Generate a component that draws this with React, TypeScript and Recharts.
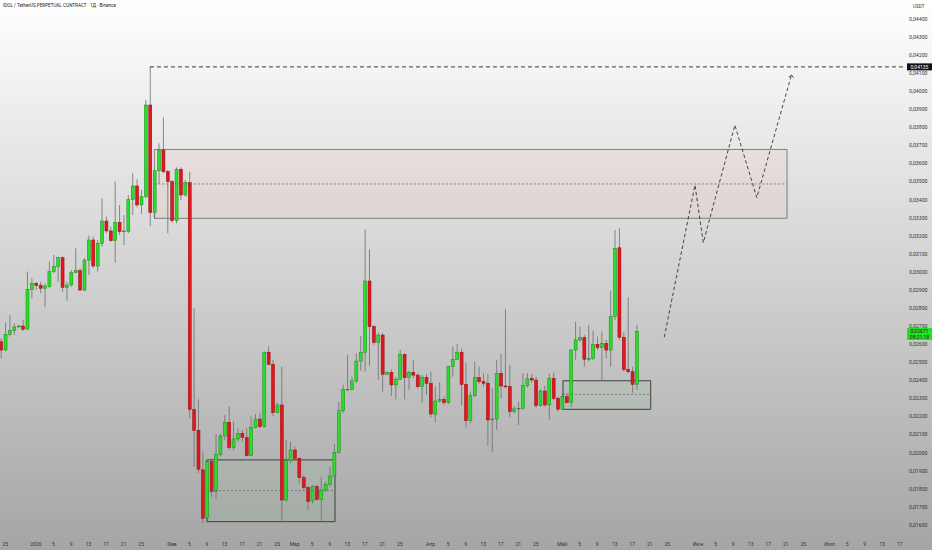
import React from "react";
import {
  ComposedChart,
  Bar,
  Line,
  XAxis,
  YAxis,
  ReferenceArea,
  ReferenceLine,
} from "recharts";

// day 0 = 1 Jan 2026, first candle = 24 Dec 2025
const FIRST_DAY = -8;

// daily OHLC, Dec 24 .. May 18
const opens = [
  0.02614, 0.02568, 0.02655, 0.02675, 0.02696, 0.02701, 0.02684, 0.02904,
  0.02937, 0.02926, 0.0291, 0.0292, 0.03002, 0.03029, 0.03079, 0.02915, 0.02928, 0.02996, 0.03007, 0.029, 0.03066, 0.03177, 0.03033, 0.03159, 0.03282, 0.03227, 0.03173, 0.03275, 0.03223, 0.03223, 0.03402, 0.03476, 0.03371, 0.03417, 0.03924, 0.03329, 0.0356, 0.03675, 0.03555,
  0.035, 0.03284, 0.03568, 0.03426, 0.03494, 0.0224, 0.02124, 0.01905, 0.0164, 0.0195, 0.01784, 0.01991, 0.02092, 0.02168, 0.02028, 0.02076, 0.02107, 0.02085, 0.01983, 0.0214, 0.02186, 0.02144, 0.02556, 0.02489, 0.02221, 0.02264, 0.01738, 0.01956,
  0.02015, 0.01969, 0.01862, 0.01806, 0.01733, 0.01812, 0.01742, 0.01794, 0.01825, 0.01871, 0.02, 0.02232, 0.02347, 0.02351, 0.02397, 0.02507, 0.02556, 0.0295, 0.02697, 0.02609, 0.02651, 0.02434, 0.02445, 0.02375, 0.02406, 0.02544, 0.02415, 0.02445, 0.02429, 0.02365, 0.02417,
  0.02384, 0.02214, 0.02286, 0.02295, 0.02277, 0.02476, 0.02517, 0.02556, 0.02378, 0.02177, 0.02315, 0.02415, 0.02393, 0.02384, 0.02181, 0.02186, 0.02439, 0.02369, 0.02366, 0.02227, 0.02242, 0.02246, 0.02371, 0.02412, 0.02402, 0.0226, 0.02341, 0.02264, 0.02412, 0.02301,
  0.02241, 0.0231, 0.02277, 0.02568, 0.02624, 0.02636, 0.02517, 0.02522, 0.026, 0.02581, 0.02605, 0.02568, 0.02753, 0.03134, 0.02639, 0.02461, 0.02448, 0.02378,
];
const highs = [
  0.02633, 0.02722, 0.02762, 0.02716, 0.02707, 0.02734, 0.03002, 0.02965,
  0.02946, 0.02946, 0.02937, 0.03057, 0.03094, 0.03085, 0.03085, 0.02946, 0.03011, 0.03131, 0.0302, 0.03076, 0.03201, 0.03195, 0.03177, 0.03408, 0.03306, 0.03251, 0.035, 0.03371, 0.03315, 0.03426, 0.03546, 0.03513, 0.03454, 0.03952, 0.04135, 0.03564, 0.03712, 0.03856, 0.03564,
  0.03509, 0.03579, 0.03579, 0.03509, 0.03555, 0.02799, 0.02295, 0.02005, 0.01963, 0.01969, 0.02103, 0.02107, 0.02209, 0.02254, 0.02172, 0.02135, 0.02126, 0.02135, 0.02203, 0.02214, 0.02221, 0.02559, 0.0259, 0.02513, 0.02277, 0.02476, 0.0207, 0.02061,
  0.02033, 0.01974, 0.01876, 0.01816, 0.01821, 0.01821, 0.01867, 0.01839, 0.01922, 0.02048, 0.02282, 0.02375, 0.02541, 0.0242, 0.0255, 0.02646, 0.03236, 0.03126, 0.02707, 0.02664, 0.02661, 0.02448, 0.02461, 0.0242, 0.02568, 0.0255, 0.02453, 0.02513, 0.02439, 0.0243, 0.02435,
  0.02448, 0.02365, 0.02389, 0.0231, 0.02481, 0.02587, 0.02601, 0.02578, 0.02498, 0.02338, 0.02504, 0.02476, 0.02439, 0.02435, 0.02356, 0.02513, 0.02546, 0.02794, 0.02485, 0.02258, 0.02282, 0.02439, 0.02439, 0.02434, 0.0242, 0.02352, 0.02369, 0.02439, 0.02443, 0.0231,
  0.02329, 0.02329, 0.02572, 0.02725, 0.02697, 0.02651, 0.02707, 0.02675, 0.02642, 0.0267, 0.02624, 0.02896, 0.03232, 0.03242, 0.02666, 0.0286, 0.02476, 0.02707,
];
const lows = [
  0.02522, 0.02564, 0.02642, 0.02651, 0.02692, 0.02675, 0.0268, 0.02854,
  0.029, 0.02882, 0.02805, 0.0291, 0.02993, 0.02946, 0.02891, 0.02841, 0.02919, 0.02993, 0.02895, 0.02895, 0.02983, 0.0302, 0.03002, 0.0314, 0.03214, 0.03168, 0.03051, 0.03205, 0.03149, 0.03214, 0.03315, 0.03358, 0.03321, 0.03408, 0.03254, 0.03297, 0.03487, 0.03546, 0.03214,
  0.03273, 0.03269, 0.03398, 0.03417, 0.0219, 0.01921, 0.01886, 0.01609, 0.01627, 0.01756, 0.01742, 0.01978, 0.0207, 0.02015, 0.02015, 0.02061, 0.02061, 0.01978, 0.01978, 0.02135, 0.02135, 0.0214, 0.02485, 0.02203, 0.02218, 0.01618, 0.01729, 0.01941,
  0.0196, 0.01831, 0.01794, 0.01683, 0.0172, 0.01734, 0.01618, 0.01784, 0.01812, 0.01867, 0.01996, 0.02218, 0.02343, 0.02347, 0.02384, 0.02453, 0.02448, 0.0248, 0.02596, 0.02402, 0.02338, 0.02429, 0.02314, 0.02295, 0.02402, 0.02295, 0.02347, 0.02412, 0.02356, 0.02277, 0.02319,
  0.02194, 0.02168, 0.02277, 0.02264, 0.02269, 0.0242, 0.02513, 0.02264, 0.0214, 0.02163, 0.0231, 0.0238, 0.02365, 0.02039, 0.02002, 0.02126, 0.02301, 0.02356, 0.02196, 0.02218, 0.02153, 0.0224, 0.0236, 0.02387, 0.02249, 0.02254, 0.02254, 0.02181, 0.02291, 0.02227,
  0.02236, 0.02273, 0.02254, 0.02513, 0.02614, 0.02476, 0.02504, 0.02513, 0.02568, 0.02398, 0.02522, 0.02476, 0.02734, 0.02624, 0.02448, 0.02439, 0.02332, 0.02347,
];
const closes = [
  0.02568, 0.02655, 0.02675, 0.02696, 0.02701, 0.02683, 0.02904, 0.02937,
  0.02926, 0.0291, 0.02922, 0.03002, 0.03029, 0.03079, 0.02915, 0.02928, 0.02996, 0.03007, 0.029, 0.03066, 0.03177, 0.03033, 0.03159, 0.03282, 0.03227, 0.03173, 0.03275, 0.03223, 0.03227, 0.03402, 0.03476, 0.03371, 0.03417, 0.03924, 0.03329, 0.0356, 0.03675, 0.03555, 0.035,
  0.03284, 0.03568, 0.03426, 0.03494, 0.0224, 0.02124, 0.01908, 0.01637, 0.0195, 0.01784, 0.01991, 0.02092, 0.02168, 0.02028, 0.02076, 0.02107, 0.02085, 0.01983, 0.0214, 0.02186, 0.02144, 0.02556, 0.02489, 0.02221, 0.02264, 0.01738, 0.01956, 0.02015,
  0.01969, 0.01862, 0.01806, 0.01729, 0.01812, 0.01742, 0.01794, 0.01825, 0.01871, 0.02, 0.02232, 0.02351, 0.02351, 0.02397, 0.02507, 0.02556, 0.0295, 0.02697, 0.02609, 0.02651, 0.02434, 0.02445, 0.02375, 0.02406, 0.02544, 0.02415, 0.02445, 0.02429, 0.02365, 0.02417, 0.02384,
  0.02214, 0.02286, 0.02295, 0.02277, 0.02476, 0.02517, 0.02556, 0.02378, 0.02177, 0.02315, 0.02417, 0.02393, 0.02384, 0.02181, 0.02186, 0.02439, 0.02369, 0.02366, 0.02227, 0.02242, 0.02246, 0.02371, 0.02408, 0.02402, 0.0226, 0.02341, 0.02264, 0.02412, 0.02301, 0.02241,
  0.0231, 0.02277, 0.02568, 0.02624, 0.02636, 0.02517, 0.02522, 0.026, 0.02581, 0.02605, 0.02568, 0.02753, 0.03131, 0.02639, 0.02461, 0.02448, 0.02378, 0.02671,
];

// x axis labels (day index -> text)
const tickDays = [
  -7, 0, 4, 8, 12, 16, 20, 24, 31, 35, 39, 43, 47, 51, 55, 59, 63, 67, 71, 75, 79, 83,
  90, 94, 98, 102, 106, 110, 114, 120, 124, 128, 132, 136, 140, 144, 151, 155, 159, 163,
  167, 171, 175, 181, 185, 189, 193, 197,
];
const tickLabels = [
  "25", "2026", "5", "9", "13", "17", "21", "25", "Фев", "5", "9", "13", "17", "21", "25",
  "Мар", "5", "9", "13", "17", "21", "25", "Апр", "5", "9", "13", "17", "21", "25", "Май",
  "5", "9", "13", "17", "21", "25", "Июн", "5", "9", "13", "17", "21", "25", "Июл", "5",
  "9", "13", "17",
];
const priceTicks = [
  0.016, 0.017, 0.018, 0.019, 0.02, 0.021, 0.022, 0.023, 0.024, 0.025, 0.026, 0.027, 0.028,
  0.029, 0.03, 0.031, 0.032, 0.033, 0.034, 0.035, 0.036, 0.037, 0.038, 0.039, 0.04, 0.041,
  0.042, 0.043, 0.044,
];

// drawn projection path
const projDays = [143.3, 150.3, 152.2, 159.4, 164.4, 172.3];
const projPrices = [0.02639, 0.03481, 0.03162, 0.03813, 0.03411, 0.0409];

// all-time high marker
const athDay = 26;
const athPrice = 0.04135;

// zones: [fromDay, toDay, low, high, mid]
const supplyZone = [27, 171.3, 0.03297, 0.03678, 0.03487];
const baseZone = [39, 68.2, 0.01618, 0.0196, 0.0179];
const retestZone = [120.2, 140.2, 0.0224, 0.02398, 0.02323];

const countdown = "08:21:18";

const candles = opens.map((open, i) => ({
  d: FIRST_DAY + i,
  open,
  high: highs[i],
  low: lows[i],
  close: closes[i],
}));
const projection = projDays.map((d, i) => ({ d, p: projPrices[i] }));
const lastClose = closes[closes.length - 1];

const fmt = (v: number) => v.toFixed(5).replace(".", ",");

const Candle = (props: any) => {
  let { x, y, width, height, payload } = props;
  if (height < 0) {
    y += height;
    height = -height;
  }
  const { open, high, low, close } = payload;
  const up = close >= open;
  const k = height / (high - low || 1e-9);
  const cx = x + width / 2;
  const top = y + (high - Math.max(open, close)) * k;
  const bot = y + (high - Math.min(open, close)) * k;
  return (
    <g>
      <line x1={cx} x2={cx} y1={y} y2={y + height} stroke="#6e6e6e" strokeWidth={0.8} />
      <rect
        x={x}
        y={top}
        width={width}
        height={Math.max(bot - top, 0.8)}
        fill={up ? "#2bdc2b" : "#e3161e"}
        stroke={up ? "#178a17" : "#8e1014"}
        strokeWidth={0.5}
      />
    </g>
  );
};

const AthTag = (props: any) => {
  const vb = props.viewBox;
  const x = vb.x + vb.width + 2;
  return (
    <g>
      <rect x={x} y={vb.y - 3.5} width={25} height={7} fill="#111" />
      <text x={x + 12.5} y={vb.y + 1.8} fontSize={5} fill="#fff" textAnchor="middle">
        {fmt(athPrice)}
      </text>
    </g>
  );
};

const LastTag = (props: any) => {
  const vb = props.viewBox;
  const x = vb.x + vb.width + 2;
  return (
    <g>
      <rect x={x} y={vb.y - 3.5} width={25} height={12} fill="#1fe41f" />
      <text x={x + 12.5} y={vb.y + 1.8} fontSize={5} fill="#1a1a1a" textAnchor="middle">
        {fmt(lastClose)}
      </text>
      <text x={x + 12.5} y={vb.y + 7.2} fontSize={5} fill="#1a1a1a" textAnchor="middle">
        {countdown}
      </text>
    </g>
  );
};

const ArrowDot = (props: any) => {
  const { cx, cy, index } = props;
  if (index !== projDays.length - 1) return <g key={`d${index}`} />;
  return (
    <path
      key={`d${index}`}
      d={`M${cx - 2.6} ${cy + 2.2} L${cx} ${cy} L${cx + 2.2} ${cy + 2.8}`}
      fill="none"
      stroke="#333"
      strokeWidth={0.9}
    />
  );
};

const zoneArea = (z: number[], fill: string, opacity: number, stroke: string) => (
  <ReferenceArea
    x1={z[0]}
    x2={z[1]}
    y1={z[2]}
    y2={z[3]}
    fill={fill}
    fillOpacity={opacity}
    stroke={stroke}
    strokeWidth={1}
  />
);

const zoneMid = (z: number[]) => (
  <ReferenceLine
    segment={[
      { x: z[0], y: z[4] },
      { x: z[1], y: z[4] },
    ]}
    stroke="#6a6a6a"
    strokeWidth={0.8}
    strokeDasharray="2 2"
  />
);

export default function App() {
  return (
    <div
      style={{
        position: "absolute",
        left: 0,
        top: 0,
        width: 932,
        height: 550,
        background: "linear-gradient(180deg, #ffffff 0%, #a5a5a5 100%)",
        fontFamily: "Roboto, sans-serif",
        overflow: "hidden",
      }}
    >
      <div style={{ position: "absolute", left: 3, top: 3, fontSize: 4.6, color: "#222", whiteSpace: "nowrap" }}>
        IDOL / TetherUS PERPETUAL CONTRACT · 1Д · Binance
      </div>
      <div style={{ position: "absolute", left: 913, top: 4, fontSize: 4.6, color: "#333" }}>USDT</div>
      <ComposedChart
        width={932}
        height={550}
        data={candles}
        margin={{ top: 0, right: 0, bottom: 0, left: 0 }}
      >
        <XAxis
          dataKey="d"
          type="number"
          domain={[-8.2, 198.2]}
          allowDataOverflow
          ticks={tickDays}
          interval={0}
          tickFormatter={(v: number) => tickLabels[tickDays.indexOf(v)] ?? ""}
          axisLine={false}
          tickLine={false}
          tickSize={5}
          tickMargin={5}
          height={18}
          tick={{ fontSize: 5, fill: "#333" }}
        />
        <YAxis
          orientation="right"
          type="number"
          domain={[0.01561, 0.045051]}
          allowDataOverflow
          ticks={priceTicks}
          interval={0}
          tickFormatter={fmt}
          axisLine={false}
          tickLine={false}
          tickSize={2}
          tickMargin={2}
          width={27}
          tick={{ fontSize: 5.2, fill: "#333" }}
        />
        {zoneArea(supplyZone, "#f08c8c", 0.09, "#7e7e7e")}
        {zoneMid(supplyZone)}
        {zoneArea(baseZone, "#7cc47c", 0.1, "#3e3e3e")}
        {zoneMid(baseZone)}
        {zoneArea(retestZone, "#7cc47c", 0.1, "#3e3e3e")}
        {zoneMid(retestZone)}
        <ReferenceLine
          segment={[
            { x: athDay, y: athPrice },
            { x: 198.2, y: athPrice },
          ]}
          stroke="#222"
          strokeWidth={0.9}
          strokeDasharray="4 3"
        />
        <Bar
          dataKey={(e: any) => [e.low, e.high]}
          shape={<Candle />}
          barSize={3}
          isAnimationActive={false}
        />
        <Line
          data={projection}
          dataKey="p"
          type="linear"
          stroke="#333"
          strokeWidth={0.9}
          strokeDasharray="3.5 2.5"
          dot={ArrowDot}
          activeDot={false}
          isAnimationActive={false}
        />
        <ReferenceLine y={athPrice} stroke="none" label={(p: any) => <AthTag {...p} />} />
        <ReferenceLine y={lastClose} stroke="none" label={(p: any) => <LastTag {...p} />} />
      </ComposedChart>
    </div>
  );
}
